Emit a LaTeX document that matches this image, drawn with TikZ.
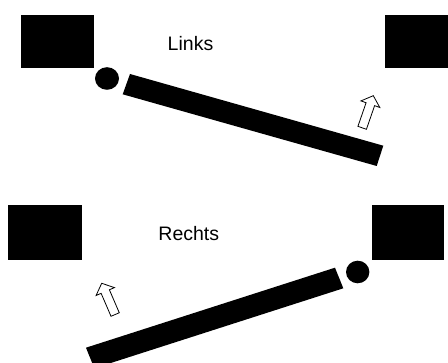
\documentclass[tikz,border=0pt]{standalone}
\usepackage{fontspec}
\setmainfont{Liberation Sans}
\begin{document}
\begin{tikzpicture}[x=1pt,y=1pt,
  solidshape/.style={fill=black, draw=none},
  hollowarrow/.style={draw=black, fill=white, line width=0.8pt, line join=miter},
  labeltext/.style={font=\fontsize{19.5}{22}\selectfont, inner sep=0pt, anchor=base},
  blockarrow/.pic={\draw[hollowarrow] (0,0) -- (-9,10) -- (-9,4.5) -- (-34,4.5) -- (-34,-4.5) -- (-9,-4.5) -- (-9,-10) -- cycle;}]
\useasboundingbox (0,0) rectangle (448,363);
\clip (0,0) rectangle (448,363);
% ---- top: Links ----
\fill[solidshape] (21,294.7) rectangle (94.3,348);
\fill[solidshape] (385,294.7) rectangle (449,348);
\fill[solidshape] (107,284.5) ellipse [x radius=12, y radius=11.3];
\fill[solidshape] (130,289) -- (383.3,217.3) -- (376.7,197) -- (122.7,268.7) -- cycle;
\node[labeltext] (links) at (190.5,312.3) {Links};
\pic[rotate=70.9] at (373.3,267.3) {blockarrow};
% ---- bottom: Rechts ----
\fill[solidshape] (8,103) rectangle (81.7,158);
\fill[solidshape] (371.7,103) rectangle (444,158);
\fill[solidshape] (357.7,91) ellipse [x radius=11.7, y radius=11.3];
\fill[solidshape] (335,95.3) -- (343.3,74.7) -- (94.3,-5.3) -- (86,15.3) -- cycle;
\node[labeltext] (rechts) at (188.8,122.3) {Rechts};
\pic[rotate=113.3] at (101.7,79.7) {blockarrow};
\end{tikzpicture}
\end{document}
